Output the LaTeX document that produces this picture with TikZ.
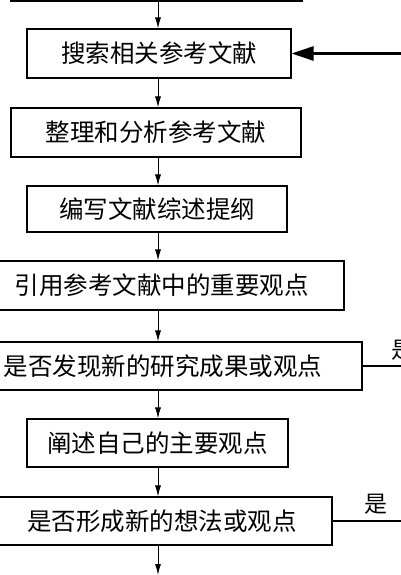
\documentclass[tikz,border=0pt]{standalone}
\usepackage{fontspec}
\newfontfamily\cjk{Noto Sans CJK SC}
\usepackage{tikz}
\usetikzlibrary{shapes, arrows, arrows.meta, positioning}

\tikzset{
    stepbox/.style={draw, line width=1.1pt, inner sep=0pt, minimum height=49pt,
        font=\cjk\fontsize{24.5pt}{26pt}\selectfont},
    flow/.style={line width=0.9pt, -{Latex[length=11pt, width=6pt]}},
    back/.style={line width=2.6pt},
    yeslabel/.style={font=\cjk\fontsize{23pt}{25pt}\selectfont, inner sep=0pt}
}

\begin{document}
\begin{tikzpicture}[x=1pt, y=-1pt]
    \useasboundingbox (0,0) rectangle (400,575);

        % --- 流程框 ---
        \node[stepbox, minimum width=291pt] (top) at (156.5, -23.5) {};
        \node[stepbox, minimum width=264pt] (search) at (159, 53.5) {搜索相关参考文献};
        \node[stepbox, minimum width=290pt] (sort) at (156, 132.5) {整理和分析参考文献};
        \node[stepbox, minimum width=260pt, minimum height=46pt] (outline) at (157, 209) {编写文献综述提纲};
        \node[stepbox, minimum width=365pt] (cite) at (161.5, 285.5) {引用参考文献中的重要观点};
        \node[stepbox, minimum width=398pt, minimum height=48pt] (found) at (163, 366) {是否发现新的研究成果或观点};
        \node[stepbox, minimum width=261pt, minimum height=48pt] (state) at (157.5, 443) {阐述自己的主要观点};
        \node[stepbox, minimum width=340pt, minimum height=48pt] (new) at (162, 521) {是否形成新的想法或观点};

        % 主线箭头
        \coordinate (spine) at (158, 0);
        \coordinate (next) at (158, 575);
        \draw[flow] (top.south -| spine) -- (search.north -| spine);
        \draw[flow] (search.south -| spine) -- (sort.north -| spine);
        \draw[flow] (sort.south -| spine) -- (outline.north -| spine);
        \draw[flow] (outline.south -| spine) -- (cite.north -| spine);
        \draw[flow] (cite.south -| spine) -- (found.north -| spine);
        \draw[flow] (found.south -| spine) -- (state.north -| spine);
        \draw[flow] (state.south -| spine) -- (new.north -| spine);
        \draw[flow] (new.south -| spine) -- (next);

        % 返回线 (右侧)
        \coordinate (loopR) at (430, 300);
        \draw[back, -{Triangle[length=22pt, width=14pt]}] (new.east) -| (loopR) |- (search.east);
        \draw[back] (found.east) -- (found.east -| loopR);

        % 判断标注
        \node[yeslabel] (yes1) at (403, 350) {是};
        \node[yeslabel] (yes2) at (376, 504) {是};

    \end{tikzpicture}
\end{document}
